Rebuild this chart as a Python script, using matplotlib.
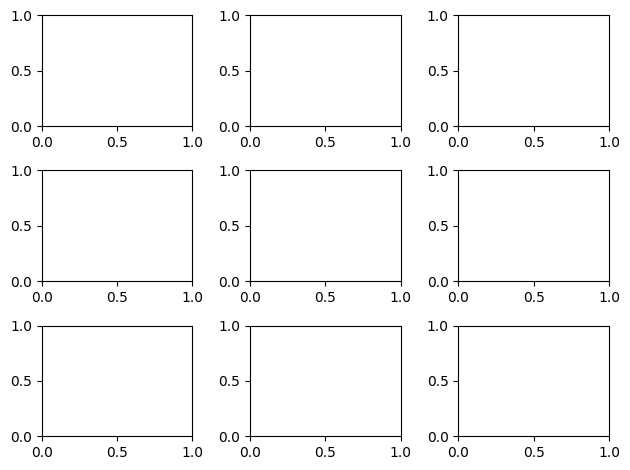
import matplotlib
matplotlib.use("Agg")
import matplotlib.pyplot as plt

# 3x3 grid of empty axes
n_rows = 3
n_cols = 3

fig, axes = plt.subplots(nrows=n_rows, ncols=n_cols, figsize=(6.4, 4.8), dpi=100)
plt.tight_layout()
fig.savefig("out.png", dpi=100, bbox_inches="tight")
